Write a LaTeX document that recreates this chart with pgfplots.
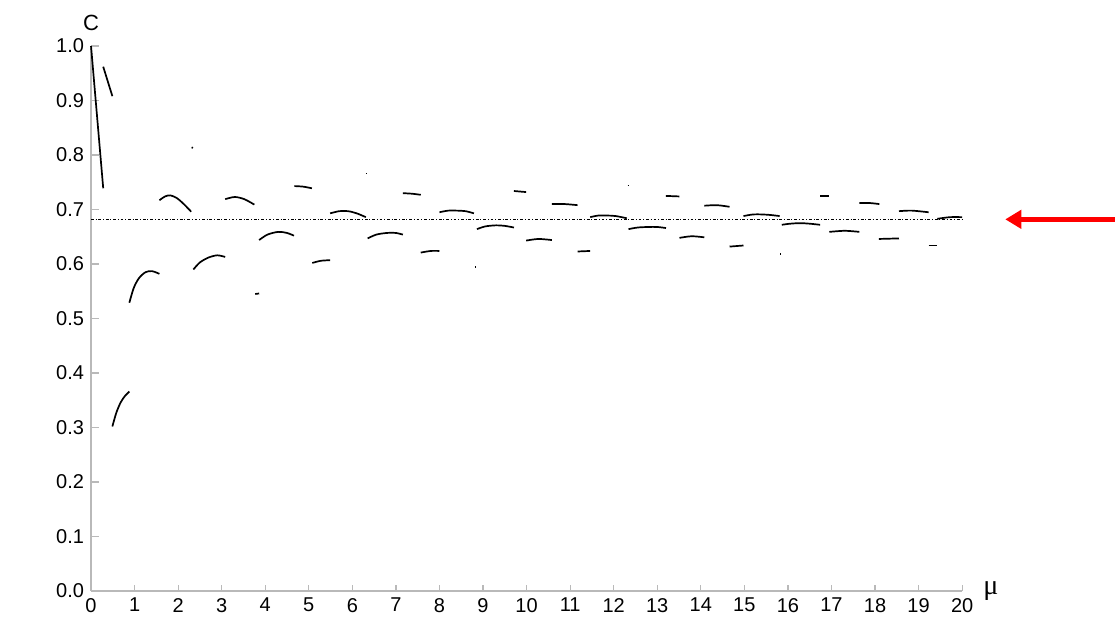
\documentclass[border=0pt]{standalone}
\usepackage{pgfplots}
\pgfplotsset{compat=1.18}
\usepackage{fontspec}
\setmainfont{Liberation Sans}
\newfontfamily\serif{Liberation Serif}
\usetikzlibrary{arrows.meta}

\definecolor{axisgray}{RGB}{185,185,185}

\begin{document}
\begin{tikzpicture}
\begin{axis}[
  scale only axis,
  width=435.5pt, height=272.5pt,
  xmin=0, xmax=20, ymin=0, ymax=1,
  axis x line*=bottom, axis y line*=left,
  axis line style={axisgray, line width=0.7pt, -},
  tick align=inside,
  tick style={axisgray, line width=0.6pt},
  xtick={0,1,...,20},
  ytick={0,0.1,...,1.0},
  xtick style={/pgfplots/major tick length=3pt},
  ytick style={/pgfplots/major tick length=4pt},
  extra x ticks={5,10,15,20},
  extra x tick labels={},
  extra x tick style={/pgfplots/major tick length=5.5pt},
  minor tick num=0,
  ticklabel style={font=\fontsize{10}{11}\selectfont, text=black},
  /pgf/number format/assume math mode=true,
  yticklabel style={/pgf/number format/fixed, /pgf/number format/fixed zerofill, /pgf/number format/precision=1},
  clip=false,
  seg/.style={black, line width=0.85pt, no markers},
]
% dash-dot reference level
\addplot[black, line width=0.8pt, dash pattern=on 1.4pt off 0.9pt on 0.5pt off 0.9pt, no markers]
  coordinates {(0,0.682)(20,0.682)};

\addplot[seg] coordinates {(0,1.0)(0.28,0.739)};
\addplot[seg] coordinates {(0.28,0.962)(0.49,0.908)};
\addplot[seg, smooth] coordinates {(0.49,0.302)(0.58,0.327)(0.68,0.346)(0.78,0.358)(0.88,0.366)};
\addplot[seg, smooth] coordinates {(0.88,0.529)(0.98,0.556)(1.1,0.574)(1.25,0.585)(1.4,0.587)(1.57,0.582)};
\addplot[seg, smooth] coordinates {(1.57,0.717)(1.7,0.724)(1.82,0.726)(1.97,0.721)(2.13,0.710)(2.30,0.696)};
\addplot[seg] coordinates {(2.31,0.814)(2.34,0.813)};
\addplot[seg, smooth] coordinates {(2.35,0.590)(2.5,0.603)(2.7,0.612)(2.9,0.616)(3.08,0.613)};
\addplot[seg, smooth] coordinates {(3.08,0.719)(3.3,0.723)(3.52,0.719)(3.75,0.709)};
\addplot[seg] coordinates {(3.77,0.545)(3.86,0.546)};
\addplot[seg, smooth] coordinates {(3.86,0.644)(4.05,0.654)(4.3,0.659)(4.5,0.657)(4.66,0.652)};
\addplot[seg, smooth] coordinates {(4.67,0.743)(4.87,0.742)(5.07,0.739)};
\addplot[seg, smooth] coordinates {(5.08,0.602)(5.28,0.606)(5.49,0.607)};
\addplot[seg, smooth] coordinates {(5.49,0.693)(5.7,0.697)(5.9,0.697)(6.1,0.693)(6.31,0.686)};
\addplot[seg] coordinates {(6.31,0.766)(6.33,0.766)};
\addplot[seg, smooth] coordinates {(6.35,0.647)(6.55,0.654)(6.79,0.657)(7.0,0.657)(7.16,0.654)};
\addplot[seg, smooth] coordinates {(7.16,0.730)(7.37,0.729)(7.57,0.727)};
\addplot[seg, smooth] coordinates {(7.57,0.621)(7.8,0.624)(8.0,0.624)};
\addplot[seg, smooth] coordinates {(8.0,0.695)(8.2,0.698)(8.4,0.698)(8.6,0.697)(8.79,0.693)};
\addplot[seg] coordinates {(8.81,0.595)(8.84,0.595)};
\addplot[seg, smooth] coordinates {(8.86,0.664)(9.05,0.669)(9.3,0.671)(9.5,0.670)(9.71,0.667)};
\addplot[seg] coordinates {(9.71,0.734)(9.99,0.732)};
\addplot[seg, smooth] coordinates {(9.99,0.643)(10.27,0.646)(10.58,0.644)};
\addplot[seg, smooth] coordinates {(10.58,0.710)(10.88,0.710)(11.17,0.708)};
\addplot[seg] coordinates {(11.17,0.623)(11.46,0.624)};
\addplot[seg, smooth] coordinates {(11.46,0.686)(11.65,0.689)(11.85,0.689)(12.05,0.688)(12.3,0.684)};
\addplot[seg] coordinates {(12.32,0.744)(12.34,0.744)};
\addplot[seg, smooth] coordinates {(12.34,0.664)(12.55,0.667)(12.8,0.668)(13.0,0.668)(13.2,0.666)};
\addplot[seg] coordinates {(13.2,0.725)(13.51,0.724)};
\addplot[seg, smooth] coordinates {(13.51,0.648)(13.79,0.651)(14.08,0.649)};
\addplot[seg, smooth] coordinates {(14.08,0.707)(14.37,0.708)(14.66,0.705)};
\addplot[seg] coordinates {(14.66,0.632)(14.98,0.634)};
\addplot[seg, smooth] coordinates {(14.98,0.688)(15.2,0.691)(15.4,0.691)(15.6,0.690)(15.81,0.688)};
\addplot[seg] coordinates {(15.82,0.618)(15.85,0.618)};
\addplot[seg, smooth] coordinates {(15.86,0.672)(16.05,0.674)(16.28,0.675)(16.5,0.674)(16.74,0.672)};
\addplot[seg] coordinates {(16.74,0.725)(16.95,0.725)};
\addplot[seg, smooth] coordinates {(16.95,0.659)(17.31,0.661)(17.64,0.659)};
\addplot[seg, smooth] coordinates {(17.64,0.712)(17.87,0.712)(18.1,0.710)};
\addplot[seg] coordinates {(18.09,0.646)(18.55,0.647)};
\addplot[seg, smooth] coordinates {(18.55,0.697)(18.84,0.698)(19.23,0.695)};
\addplot[seg] coordinates {(19.23,0.634)(19.43,0.634)};
\addplot[seg, smooth] coordinates {(19.43,0.683)(19.72,0.686)(20.0,0.686)};

% axis names
\node[font=\fontsize{11}{12}\selectfont] at (axis cs:0,1.042) {C};
\node[font=\serif\fontsize{14}{15}\selectfont] at (axis cs:20.66,0.0) {μ};

% red pointer
\draw[red, line width=2.5pt, -{Triangle[length=8pt,width=9pt]}]
  (axis cs:23.6,0.682) -- (axis cs:20.99,0.682);

\coordinate (bl) at (axis cs:-2.09,-0.055);
\coordinate (tr) at (axis cs:23.51,1.0844);
\end{axis}
\pgfresetboundingbox
\useasboundingbox (bl) rectangle (tr);
\end{tikzpicture}
\end{document}
